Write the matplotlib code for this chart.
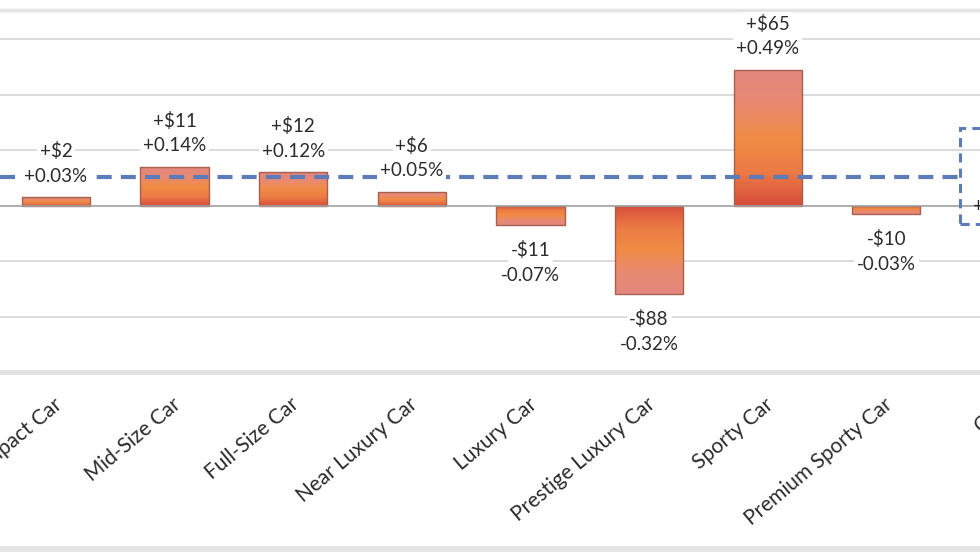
import numpy as np
import matplotlib
matplotlib.use("Agg")
import matplotlib.pyplot as plt
from matplotlib.colors import LinearSegmentedColormap
from matplotlib.patches import Rectangle
from matplotlib.lines import Line2D
import matplotlib.transforms as mtrans

# ---- data ----
categories = ["Compact Car", "Mid-Size Car", "Full-Size Car", "Near Luxury Car",
              "Luxury Car", "Prestige Luxury Car", "Sporty Car", "Premium Sporty Car",
              "Cars"]
pct_change = [0.03, 0.14, 0.12, 0.05, -0.07, -0.32, 0.49, -0.03]
dollar_change = [2, 11, 12, 6, -11, -88, 65, -10]
avg_pct = 0.10
avg_dollar = 8
avg_line_level = 0.105
y_ticks = [-0.6, -0.4, -0.2, 0.0, 0.2, 0.4, 0.6]

TXT = "#2b2b2b"
BLUE = "#5b7cb8"
FONT = "Lato"
XLIM = (-0.472, 7.79)
YLIM = (-0.6, 0.706)
PAD = 16
XSHIFT = -3  # px

fig = plt.figure(figsize=(9.8, 5.52), dpi=100)
ax = fig.add_axes([0.0, 1 - 372 / 552, 1.0, (372 - 10) / 552])
for s in ax.spines.values():
    s.set_visible(False)

# gridlines
for t in y_ticks:
    if t == 0:
        continue
    ax.axhline(t, color="#dcdcdc", lw=1.4, zorder=0)
ax.axhline(YLIM[1], color="#e4e4e4", lw=2.5, zorder=0, clip_on=False)
ax.axhline(YLIM[0], color="#e2e2e2", lw=3.5, zorder=0, clip_on=False)
fig.add_artist(Line2D([0, 1], [1 - 549 / 552] * 2, transform=fig.transFigure,
                      color="#e6e6e6", lw=5))

x = np.arange(len(pct_change))
width = 0.575
bars = ax.bar(x, pct_change, width=width, color="none", edgecolor="#a8604e",
              lw=1.0, zorder=3)

cmap = LinearSegmentedColormap.from_list(
    "g", ["#d64d3a", "#ec7a45", "#f08c44", "#e98a72", "#e3877e"])
grad = np.linspace(0, 1, 256).reshape(-1, 1)
for b, v in zip(bars, pct_change):
    x0 = b.get_x()
    x1 = x0 + b.get_width()
    im = ax.imshow(grad, cmap=cmap, aspect="auto", origin="lower",
                   extent=(x0, x1, 0, v), zorder=2, interpolation="bicubic")
    clip = Rectangle((x0, min(0, v)), b.get_width(), abs(v), transform=ax.transData)
    im.set_clip_path(clip)

ax.axhline(0, color="#a0a0a0", lw=1.2, zorder=4)

# average dashed line up to the highlight box
box_x0 = 8 - 0.38
ax.plot([XLIM[0], box_x0], [avg_line_level] * 2, color=BLUE, lw=3,
        ls=(0, (3.6, 2.2)), zorder=5, solid_capstyle="butt")
box = Rectangle((box_x0, -0.065), 0.9, 0.346, fill=False, edgecolor=BLUE,
                lw=2.2, ls=(0, (3, 2)), zorder=5, clip_on=True)
ax.add_patch(box)

def fmt_d(v):
    return ("+$%d" % v) if v >= 0 else ("-$%d" % abs(v))

def fmt_p(v):
    return ("+%.2f%%" % v) if v >= 0 else ("-%.2f%%" % abs(v))

bb = dict(boxstyle="square,pad=0.15", fc="white", ec="none")
fs = 13.5
for xi, v, d in zip(x, pct_change, dollar_change):
    if v >= 0:
        offs = [(fmt_d(d), 46), (fmt_p(v), 21)]
    else:
        offs = [(fmt_d(d), -25), (fmt_p(v), -50)]
    for s, o in offs:
        ax.annotate(s, (xi, v), xytext=(0, o * 72 / 100), textcoords="offset points",
                    ha="center", va="center", fontsize=fs, color=TXT,
                    family=FONT, bbox=bb, zorder=6)

# label inside the highlight box (category index 8, partly outside the view)
total_idx = len(categories) - 1
for s, o in [(fmt_d(avg_dollar), 24), (fmt_p(avg_pct), -1)]:
    ax.annotate(s, (total_idx, 0), xytext=(0, o * 72 / 100), textcoords="offset points",
                ha="center", va="center", fontsize=fs, color=TXT, family=FONT,
                zorder=6, annotation_clip=False)

# category labels
ax.set_xticks(np.arange(len(categories) - 1))
ax.set_xticklabels(categories[:-1], rotation=40, ha="right", rotation_mode="anchor",
                   fontsize=15, color=TXT, family=FONT)
ax.tick_params(axis="x", length=0, pad=PAD)
ax.set_yticks([])
off = mtrans.ScaledTranslation(XSHIFT / 100, 0, fig.dpi_scale_trans)
for lab in ax.get_xticklabels():
    lab.set_transform(lab.get_transform() + off)
ax.annotate(categories[-1], (total_idx, 0), xycoords=("data", "axes fraction"),
            xytext=(XSHIFT * 72 / 100, -PAD), textcoords="offset points",
            rotation=40, rotation_mode="anchor", ha="right", va="top",
            fontsize=15, color=TXT, family=FONT, annotation_clip=False)

ax.set_xlim(*XLIM)
ax.set_ylim(*YLIM)

fig.savefig("out.png", dpi=100, facecolor="white")
